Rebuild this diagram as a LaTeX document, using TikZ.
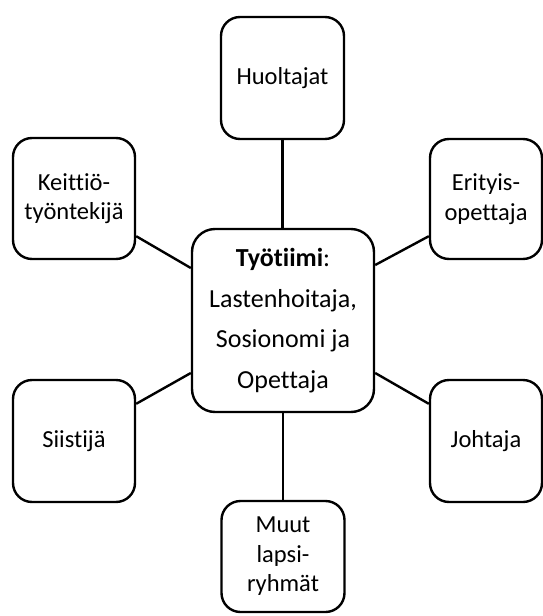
\documentclass[tikz,border=0pt]{standalone}
\usepackage{fontspec}
\setmainfont[Ligatures={NoCommon}]{Carlito}
\usetikzlibrary{calc}
\begin{document}
\begin{tikzpicture}[x=1pt,y=1pt,
  box/.style={draw=black, line width=2.4pt, rounded corners=19pt, fill=white, inner sep=0pt, align=center, font=\fontsize{24.5}{29.5}\selectfont},
  link/.style={draw=black, line width=2.4pt}]
\useasboundingbox (0,0) rectangle (543,-616);
\node[box, minimum width=123pt, minimum height=122pt] (hu) at (282.5,-78) {Huoltajat};
\node[box, minimum width=122pt, minimum height=121pt] (ke) at (74,-198.5) {Keittiö-\\työntekijä};
\node[box, minimum width=112pt, minimum height=120pt] (er) at (486,-199) {Erityis-\\opettaja};
\node[box, minimum width=122pt, minimum height=122pt] (si) at (74,-441) {Siistijä};
\node[box, minimum width=112pt, minimum height=122pt] (jo) at (486,-441) {Johtaja};
\node[box, minimum width=123pt, minimum height=111pt] (mu) at (283,-556.5) {Muut\\lapsi-\\ryhmät};
\node[box, rounded corners=23pt, minimum width=182pt, minimum height=183pt, font=\fontsize{26}{40.5}\selectfont] (c) at (283,-320.5) {\textbf{Työtiimi}:\\Lastenhoitaja,\\Sosionomi ja\\Opettaja};
\draw[link] (hu.south) -- (hu.south |- c.north);
\draw[link] (mu.north) -- (mu.north |- c.south);
\draw[link] ($(ke.south east)+(0,24)$) -- ($(c.west)+(0,52.5)$);
\draw[link] ($(er.south west)+(0,24)$) -- ($(c.east)+(0,55.5)$);
\draw[link] ($(si.north east)+(0,-25)$) -- ($(c.west)+(0,-52.5)$);
\draw[link] ($(jo.north west)+(0,-25)$) -- ($(c.east)+(0,-52.5)$);
\end{tikzpicture}
\end{document}
